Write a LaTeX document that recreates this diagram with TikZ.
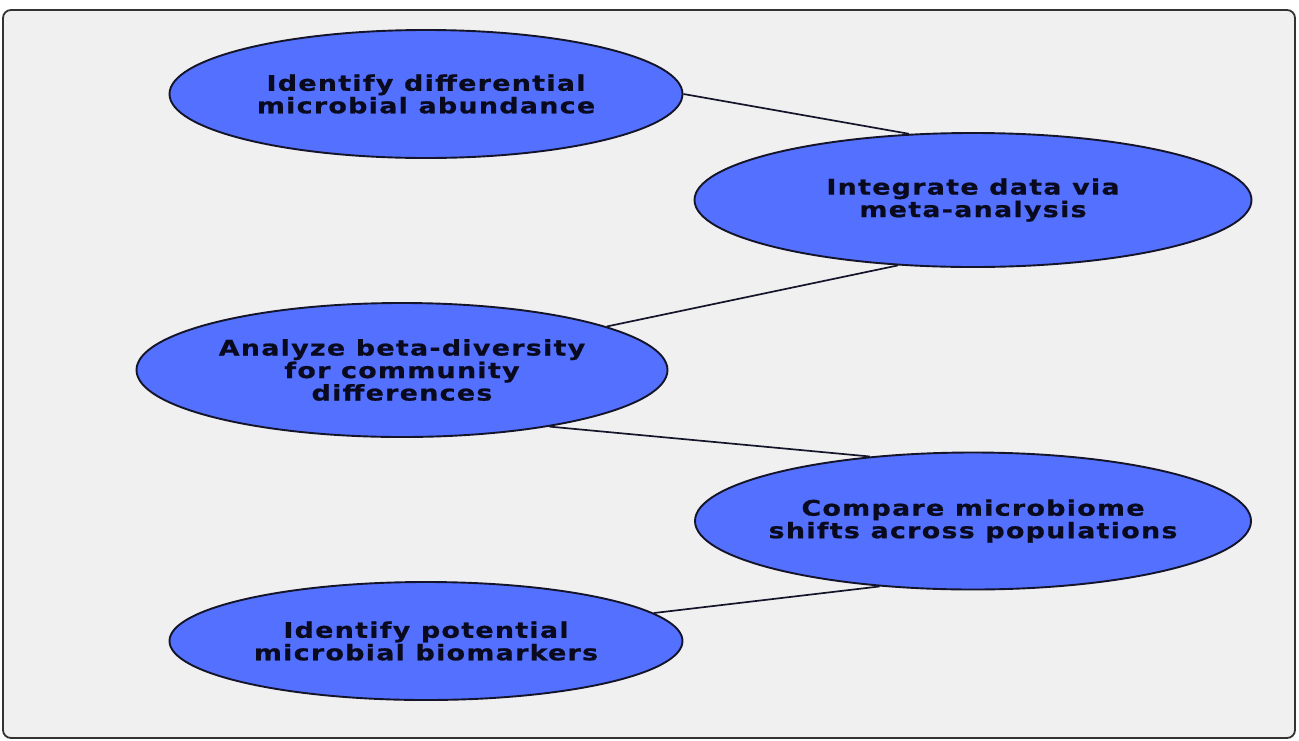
\documentclass[tikz,border=0pt]{standalone}
\usepackage{fontspec}
\setmainfont{DejaVu Sans}
\newfontfamily\lblfont[LetterSpace=6,FakeStretch=1.25,FakeBold=0.8]{DejaVu Sans Bold}
\usetikzlibrary{shapes.geometric}
\definecolor{bgc}{HTML}{F0F0F0}
\definecolor{framec}{HTML}{333333}
\definecolor{fillc}{HTML}{5470FF}
\definecolor{edgec}{HTML}{14142A}
\definecolor{txtc}{HTML}{0A0A1E}
\tikzset{
  bubble/.style={ellipse, draw=edgec, line width=1.9pt, fill=fillc, inner ysep=0pt, inner xsep=-60pt,
    align=center, text=txtc, font=\lblfont\fontsize{21.5}{22.5}\selectfont},
  link/.style={draw=edgec, line width=1.7pt}
}
\begin{document}
\begin{tikzpicture}[x=1pt,y=-1pt]
\useasboundingbox (0,0) rectangle (1299,740);
\draw[fill=bgc, draw=framec, line width=1.8pt, rounded corners=8pt] (3,10) rectangle (1295,738);
\node[bubble, minimum width=513pt, minimum height=128pt] (e1) at (426,94) {Identify differential\\microbial abundance};
\node[bubble, minimum width=557pt, minimum height=134pt] (e2) at (973,200) {Integrate data via\\meta-analysis};
\node[bubble, minimum width=531pt, minimum height=134pt] (e3) at (402,370) {Analyze beta-diversity\\for community\\differences};
\node[bubble, minimum width=556pt, minimum height=137pt] (e4) at (973,521) {Compare microbiome\\shifts across populations};
\node[bubble, minimum width=513pt, minimum height=118pt] (e5) at (426,641) {Identify potential\\microbial biomarkers};
\draw[link] (e1.east) -- (e2.134);
\draw[link] (e2.221) -- (e3.12);
\draw[link] (e3.-21) -- (e4.148);
\draw[link] (e4.215) -- (e5.7);
\end{tikzpicture}
\end{document}
